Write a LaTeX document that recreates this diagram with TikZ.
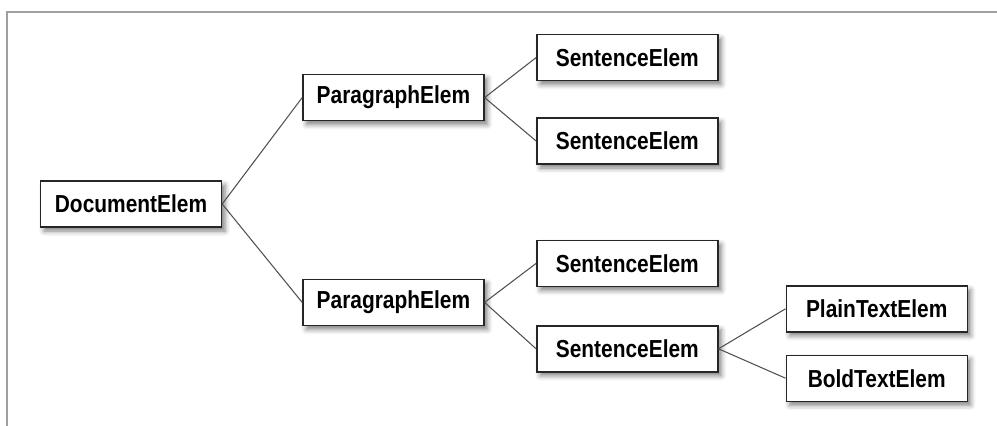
\documentclass[tikz,border=0pt]{standalone}
\usepackage{fontspec}
\setmainfont{Liberation Sans}[FakeStretch=0.85]
\usepackage{tikz}
\usetikzlibrary{positioning,shadows.blur}
\usepackage{xcolor}
\definecolor{frame}{HTML}{A0A0A0}
\definecolor{edge}{HTML}{505050}

\begin{document}
\begin{tikzpicture}[elem/.style={draw=black!85,line width=0.8pt,fill=white,minimum width=3.62cm,minimum height=0.92cm,inner sep=0pt,font=\fontsize{14}{16}\selectfont\bfseries,blur shadow={shadow xshift=0.07cm,shadow yshift=-0.08cm,shadow blur radius=0.1cm,shadow opacity=50}},
  link/.style={draw=edge,line width=0.6pt}]
    \useasboundingbox (0,0) rectangle (19.94,-8.52);
    \draw[frame,line width=0.04cm] (19.94,-0.24) -| (0.14,-8.52);
    \node (doc) [elem] at (2.62,-4.08) {DocumentElem};
    \node (para1) [elem, above right=1.18cm and 1.6cm of doc] {ParagraphElem};
    \node (para2) [elem, below right=1.02cm and 1.6cm of doc] {ParagraphElem};
    \node (sent1) [elem, right=1.03cm of para1, yshift=0.8cm] {SentenceElem};
    \node (sent2) [elem, below=0.72cm of sent1] {SentenceElem};
    \node (sent3) [elem, right=1.03cm of para2, yshift=0.78cm] {SentenceElem};
    \node (sent4) [elem, below=0.76cm of sent3] {SentenceElem};
    \node (plain) [elem, right=1.34cm of sent4, yshift=0.8cm] {PlainTextElem};
    \node (bold) [elem, below=0.44cm of plain] {BoldTextElem};
    \draw[link] (doc.east) -- (para1.west); \draw[link] (doc.east) -- (para2.west);
    \draw[link] (para1.east) -- (sent1.west); \draw[link] (para1.east) -- (sent2.west);
    \draw[link] (para2.east) -- (sent3.west); \draw[link] (para2.east) -- (sent4.west);
    \draw[link] (sent4.east) -- (plain.west); \draw[link] (sent4.east) -- (bold.west);
  \end{tikzpicture}
\end{document}
